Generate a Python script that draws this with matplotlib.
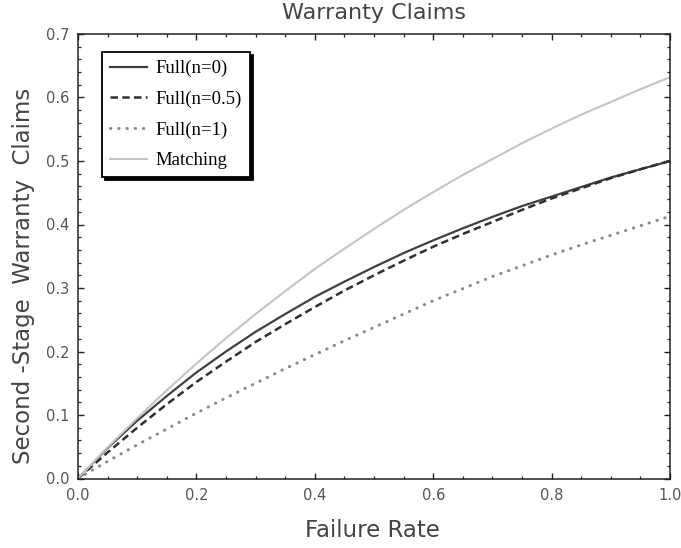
import numpy as np
import matplotlib.pyplot as plt
from matplotlib.ticker import MultipleLocator

# failure rate grid and the four curves
failure_rate = [0.0, 0.05, 0.1, 0.15, 0.2, 0.25, 0.3, 0.35, 0.4, 0.45, 0.5,
                0.55, 0.6, 0.65, 0.7, 0.75, 0.8, 0.85, 0.9, 0.95, 1.0]
full_n0 = [0.0, 0.048, 0.091, 0.130, 0.167, 0.200, 0.231, 0.259, 0.286, 0.310, 0.333,
           0.355, 0.375, 0.394, 0.412, 0.429, 0.444, 0.459, 0.474, 0.487, 0.500]
full_n05 = [0.0, 0.041, 0.080, 0.117, 0.152, 0.184, 0.215, 0.243, 0.270, 0.296, 0.320,
            0.343, 0.365, 0.385, 0.404, 0.423, 0.441, 0.457, 0.473, 0.487, 0.500]
full_n1 = [0.0, 0.027, 0.053, 0.078, 0.103, 0.127, 0.150, 0.173, 0.195, 0.217, 0.238,
           0.259, 0.280, 0.299, 0.318, 0.335, 0.352, 0.368, 0.383, 0.398, 0.413]
matching = [0.0, 0.049, 0.095, 0.139, 0.181, 0.221, 0.259, 0.295, 0.330, 0.362, 0.393,
            0.423, 0.451, 0.478, 0.503, 0.528, 0.551, 0.573, 0.593, 0.613, 0.632]

labels = ['Full(n=0)', 'Full(n=0.5)', 'Full(n=1)', 'Matching']

fig = plt.figure(figsize=(6.81, 5.48), dpi=100)
ax = fig.add_axes([78 / 681, 1 - 478.5 / 548, 592 / 681, 444.5 / 548])

# plot the curves
ax.plot(failure_rate, full_n0, color='#404040', lw=1.6, label=labels[0])
ax.plot(failure_rate, full_n05, color='#303030', lw=1.8, dashes=(3.0, 1.7), label=labels[1])
ax.plot(failure_rate, full_n1, color='#8a8a8a', lw=2.2, linestyle=(0, (0.1, 2.6)),
        dash_capstyle='round', label=labels[2])
ax.plot(failure_rate, matching, color='#c4c4c4', lw=1.5, label=labels[3])

ax.set_xlim(0, 1.0)
ax.set_ylim(0, 0.7)
ax.xaxis.set_major_locator(MultipleLocator(0.2))
ax.xaxis.set_minor_locator(MultipleLocator(0.05))
ax.yaxis.set_major_locator(MultipleLocator(0.1))
ax.yaxis.set_minor_locator(MultipleLocator(0.02))
ax.tick_params(which='both', direction='in', top=True, right=True, colors='#222222',
               labelcolor='#555555', labelsize=10.5)
ax.tick_params(which='major', length=4.5, width=1.0)
ax.tick_params(which='minor', length=2.3, width=0.9)
ax.tick_params(axis='x', pad=7)
ax.tick_params(axis='y', pad=6)
for sp in ax.spines.values():
    sp.set_color('#222222')
    sp.set_linewidth(1.1)

# axis texts
fig.text(374 / 681, 1 - 19 / 548, 'Warranty Claims', ha='center', va='baseline',
         fontsize=16, color='#444444')
fig.text(372 / 681, 1 - 537 / 548, 'Failure Rate', ha='center', va='baseline',
         fontsize=16.5, color='#444444')
fig.text(24 / 681, 1 - 276 / 548, 'Second -Stage  Warranty  Claims', ha='center', va='center',
         rotation=90, fontsize=16.5, color='#444444')

leg = ax.legend(loc='upper left', bbox_to_anchor=(0.0405, 0.9595), borderaxespad=0,
                prop={'family': 'Liberation Serif', 'size': 13.5},
                fancybox=False, framealpha=1, edgecolor='black',
                shadow={'color': 'black', 'alpha': 1.0},
                handlelength=2.0, handletextpad=0.45, labelspacing=0.72, borderpad=0.42)
leg.get_frame().set_linewidth(1.3)

fig.savefig('out.png', dpi=100)
